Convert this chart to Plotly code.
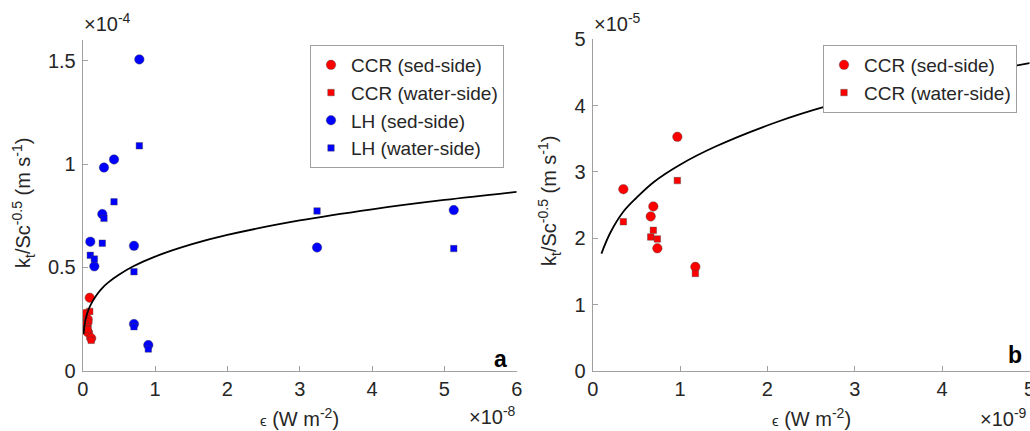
import plotly.graph_objects as go

# ---------------- data ----------------
# CCR: dissipation (W m^-2) and k_t/Sc^-0.5 (m s^-1)
ccr_eps = [0.351e-9, 0.969e-9, 0.694e-9, 0.664e-9, 0.740e-9, 1.175e-9]
ccr_sed = [2.74e-5, 3.53e-5, 2.48e-5, 2.33e-5, 1.85e-5, 1.57e-5]
ccr_water = [2.25e-5, 2.87e-5, 2.12e-5, 2.02e-5, 1.99e-5, 1.47e-5]

# LH
lh_eps = [0.783e-8, 0.294e-8, 0.433e-8, 0.271e-8, 0.105e-8, 0.709e-8,
          0.161e-8, 0.709e-8, 0.907e-8, 3.24e-8, 5.13e-8]
lh_sed = [1.506e-4, 0.983e-4, 1.022e-4, 0.758e-4, 0.624e-4, 0.604e-4,
          0.505e-4, 0.226e-4, 0.124e-4, 0.596e-4, 0.777e-4]
lh_water = [1.088e-4, 0.737e-4, 0.817e-4, 0.617e-4, 0.558e-4, 0.479e-4,
            0.540e-4, 0.213e-4, 0.105e-4, 0.773e-4, 0.591e-4]

# fitted curve
curve_eps = [0.1e-9, 0.2e-9, 0.35e-9, 0.5e-9, 0.7e-9, 1.0e-9, 1.4e-9, 2.1e-9,
             2.7e-9, 3.5e-9, 5e-9, 7e-9, 10e-9, 15e-9, 20e-9, 30e-9, 40e-9,
             50e-9, 60e-9]
curve_k = [1.77e-5, 2.08e-5, 2.40e-5, 2.61e-5, 2.85e-5, 3.11e-5, 3.38e-5,
           3.75e-5, 4.00e-5, 4.26e-5, 4.64e-5, 5.05e-5, 5.52e-5, 6.11e-5,
           6.57e-5, 7.27e-5, 7.81e-5, 8.26e-5, 8.65e-5]

# tick labels
xa_tickvals = [0, 1e-8, 2e-8, 3e-8, 4e-8, 5e-8, 6e-8]
xa_ticktext = ['0', '1', '2', '3', '4', '5', '6']
ya_tickvals = [0, 0.5e-4, 1e-4, 1.5e-4]
ya_ticktext = ['0', '0.5', '1', '1.5']
xb_tickvals = [0, 1e-9, 2e-9, 3e-9, 4e-9, 5e-9]
xb_ticktext = ['0', '1', '2', '3', '4', '5']
yb_tickvals = [0, 1e-5, 2e-5, 3e-5, 4e-5, 5e-5]
yb_ticktext = ['0', '1', '2', '3', '4', '5']

# ---------------- styling ----------------
FONT = 'Liberation Sans, Arial, Helvetica, sans-serif'
TXT = '#262626'
AX = '#a0a0a0'
RED = '#ff0000'
BLUE = '#0000ff'
EDGE = dict(color='rgba(70,70,70,0.7)', width=0.6)
W, H = 1030, 431
CS, SS = 9.5, 6.5  # circle / square marker size


def px(xp):
    return xp / W


def py(yp):
    return 1 - yp / H


fig = go.Figure()

# ---- panel a ----
fig.add_trace(go.Scatter(x=ccr_eps, y=ccr_sed, mode='markers', name='CCR (sed-side)',
                         marker=dict(symbol='circle', size=CS, color=RED, line=EDGE),
                         xaxis='x', yaxis='y', legend='legend'))
fig.add_trace(go.Scatter(x=ccr_eps, y=ccr_water, mode='markers', name='CCR (water-side)',
                         marker=dict(symbol='square', size=SS, color=RED, line=EDGE),
                         xaxis='x', yaxis='y', legend='legend'))
fig.add_trace(go.Scatter(x=lh_eps, y=lh_sed, mode='markers', name='LH (sed-side)',
                         marker=dict(symbol='circle', size=CS, color=BLUE, line=EDGE),
                         xaxis='x', yaxis='y', legend='legend'))
fig.add_trace(go.Scatter(x=lh_eps, y=lh_water, mode='markers', name='LH (water-side)',
                         marker=dict(symbol='square', size=SS, color=BLUE, line=EDGE),
                         xaxis='x', yaxis='y', legend='legend'))
fig.add_trace(go.Scatter(x=curve_eps, y=curve_k, mode='lines', line=dict(color='black', width=1.8, shape='spline'),
                         showlegend=False, xaxis='x', yaxis='y', hoverinfo='skip'))

# ---- panel b ----
fig.add_trace(go.Scatter(x=ccr_eps, y=ccr_sed, mode='markers', name='CCR (sed-side)',
                         marker=dict(symbol='circle', size=CS, color=RED, line=EDGE),
                         xaxis='x2', yaxis='y2', legend='legend2'))
fig.add_trace(go.Scatter(x=ccr_eps, y=ccr_water, mode='markers', name='CCR (water-side)',
                         marker=dict(symbol='square', size=SS, color=RED, line=EDGE),
                         xaxis='x2', yaxis='y2', legend='legend2'))
fig.add_trace(go.Scatter(x=curve_eps, y=curve_k, mode='lines', line=dict(color='black', width=1.8, shape='spline'),
                         showlegend=False, xaxis='x2', yaxis='y2', hoverinfo='skip'))

axis_common = dict(showgrid=False, zeroline=False, showline=True, linecolor=AX, linewidth=1,
                   ticks='inside', ticklen=5, tickcolor=AX, tickwidth=1,
                   tickfont=dict(family=FONT, size=20, color=TXT), mirror=False,
                   automargin=False, ticklabeloverflow='allow')

fig.update_layout(
    width=W, height=H,
    margin=dict(l=0, r=0, t=0, b=0, autoexpand=False),
    paper_bgcolor='white', plot_bgcolor='white',
    font=dict(family=FONT, color=TXT),
    xaxis=dict(domain=[px(82.7), px(516.7)], range=[0, 6e-8], tickmode='array',
               tickvals=xa_tickvals, ticktext=xa_ticktext, anchor='y', **axis_common),
    yaxis=dict(domain=[py(370.7), py(40)], range=[0, 1.6e-4], tickmode='array',
               tickvals=ya_tickvals, ticktext=ya_ticktext, anchor='x',
               ticklabelstandoff=2, **axis_common),
    xaxis2=dict(domain=[px(592.7), px(1029.5)], range=[0, 5e-9], tickmode='array',
                tickvals=xb_tickvals, ticktext=xb_ticktext, anchor='y2', **axis_common),
    yaxis2=dict(domain=[py(371), py(39.3)], range=[0, 5e-5], tickmode='array',
                tickvals=yb_tickvals, ticktext=yb_ticktext, anchor='x2',
                ticklabelstandoff=2, **axis_common),
    legend=dict(x=px(310), y=py(45), xanchor='left', yanchor='top', bgcolor='white',
                bordercolor=AX, borderwidth=1, font=dict(family=FONT, size=19, color=TXT),
                tracegroupgap=0),
    legend2=dict(x=px(823), y=py(45), xanchor='left', yanchor='top', bgcolor='white',
                 bordercolor=AX, borderwidth=1, font=dict(family=FONT, size=19, color=TXT),
                 tracegroupgap=0),
    showlegend=True,
)

ann_font = dict(family=FONT, size=20, color=TXT)
ytitle = 'k<sub>t</sub>/Sc<sup>-0.5</sup> (m s<sup>-1</sup>)'
xtitle = '<span style="font-size:15px">ϵ</span> (W m<sup>-2</sup>)'
annotations = [
    dict(text='×10<sup>-4</sup>', x=px(82), y=py(37), xanchor='left', yanchor='bottom', font=ann_font),
    dict(text='×10<sup>-5</sup>', x=px(592), y=py(37), xanchor='left', yanchor='bottom', font=ann_font),
    dict(text='×10<sup>-8</sup>', x=px(518), y=py(430), xanchor='right', yanchor='bottom', font=ann_font),
    dict(text='×10<sup>-9</sup>', x=px(1029), y=py(432), xanchor='right', yanchor='bottom', font=ann_font),
    dict(text=xtitle, x=px(299.7), y=py(432), xanchor='center', yanchor='bottom', font=ann_font),
    dict(text=xtitle, x=px(811), y=py(432), xanchor='center', yanchor='bottom', font=ann_font),
    dict(text=ytitle, x=px(24), y=py(203), xanchor='center', yanchor='middle', textangle=-90, font=ann_font),
    dict(text=ytitle, x=px(549), y=py(201), xanchor='center', yanchor='middle', textangle=-90, font=ann_font),
    dict(text='<b>a</b>', x=px(509), y=py(374), xanchor='right', yanchor='bottom',
         font=dict(family=FONT, size=23, color='black')),
    dict(text='<b>b</b>', x=px(1024), y=py(370), xanchor='right', yanchor='bottom',
         font=dict(family=FONT, size=23, color='black')),
]
for a in annotations:
    a.update(xref='paper', yref='paper', showarrow=False)
fig.update_layout(annotations=annotations)

fig.write_html('out.html',
               post_script="document.body.style.margin='0';document.body.style.overflow='hidden';")
